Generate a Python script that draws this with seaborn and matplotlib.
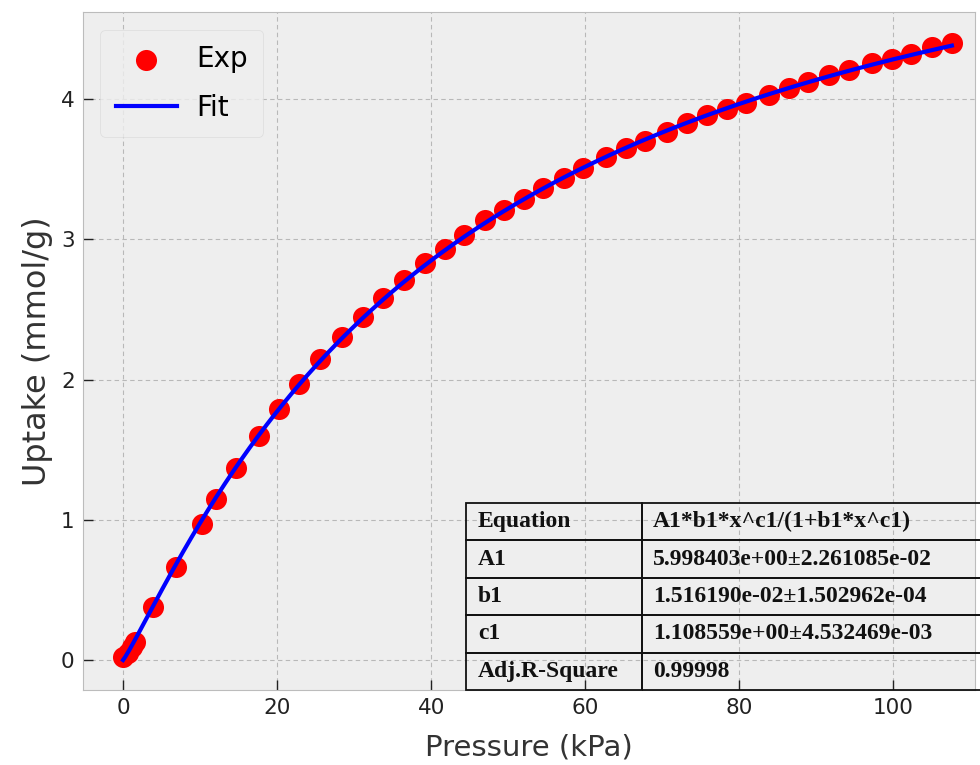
import numpy as np
import pandas as pd
import matplotlib
matplotlib.use("Agg")
import matplotlib.pyplot as plt
import seaborn as sns

# Measured isotherm points
pressure_kpa = [0.05, 0.6, 1.1, 1.6, 3.9, 6.9, 10.2, 12.1, 14.7, 17.6, 20.2, 22.8,
                25.6, 28.4, 31.1, 33.8, 36.5, 39.2, 41.8, 44.2, 47.0, 49.4, 52.0,
                54.5, 57.2, 59.7, 62.7, 65.3, 67.7, 70.6, 73.2, 75.8, 78.4, 80.9,
                83.9, 86.5, 88.9, 91.7, 94.3, 97.2, 99.8, 102.3, 105.0, 107.6]
uptake_mmol_g = [0.02, 0.05, 0.09, 0.13, 0.38, 0.66, 0.97, 1.15, 1.37, 1.60, 1.79, 1.97,
                 2.145, 2.305, 2.45, 2.58, 2.71, 2.83, 2.93, 3.03, 3.14, 3.21, 3.29,
                 3.37, 3.44, 3.51, 3.585, 3.65, 3.70, 3.765, 3.83, 3.885, 3.93, 3.975,
                 4.03, 4.08, 4.12, 4.17, 4.21, 4.255, 4.29, 4.325, 4.37, 4.40]

# Sips fit parameters
A1 = 5.998403e+00
b1 = 1.516190e-02
c1 = 1.108559e+00

table_labels = ["Equation", "A1", "b1", "c1", "Adj.R-Square"]
table_values = ["A1*b1*x^c1/(1+b1*x^c1)",
                "5.998403e+00\u00b12.261085e-02",
                "1.516190e-02\u00b11.502962e-04",
                "1.108559e+00\u00b14.532469e-03",
                "0.99998"]

plt.style.use("bmh")
plt.rcParams["font.family"] = ["DejaVu Sans"]
plt.rcParams["grid.linestyle"] = (0, (4, 3))
plt.rcParams["grid.linewidth"] = 0.8
plt.rcParams["grid.color"] = "#b8b8b8"

exp_df = pd.DataFrame({"Pressure": pressure_kpa, "Uptake": uptake_mmol_g})
x_fit = np.linspace(0, max(pressure_kpa), 400)
fit_df = pd.DataFrame({"Pressure": x_fit,
                       "Uptake": A1 * b1 * x_fit ** c1 / (1 + b1 * x_fit ** c1)})

fig = plt.figure(figsize=(9.8, 7.65), dpi=100)
ax = fig.add_axes([0.0847, 0.098, 0.9102, 0.886])

sns.scatterplot(data=exp_df, x="Pressure", y="Uptake", ax=ax, color="red",
                s=230, linewidth=0, label="Exp", zorder=3)
sns.lineplot(data=fit_df, x="Pressure", y="Uptake", ax=ax, color="blue",
             linewidth=3, label="Fit", zorder=4)

ax.set_xlim(-5.2, 110.6)
ax.set_ylim(-0.214, 4.62)
ax.set_xticks([0, 20, 40, 60, 80, 100])
ax.set_yticks([0, 1, 2, 3, 4])
ax.tick_params(labelsize=15.5, length=7, width=1, colors="#222222", pad=6)
ax.set_xlabel("Pressure (kPa)", fontsize=21, color="#333333", labelpad=11)
ax.set_ylabel("Uptake (mmol/g)", fontsize=23, color="#333333", labelpad=6)

leg = ax.legend(loc="upper left", fontsize=20, handlelength=2.2, borderpad=0.55,
                handletextpad=0.7, labelspacing=0.75, bbox_to_anchor=(0.004, 0.995))
leg.get_frame().set_facecolor("#eeeeee")
leg.get_frame().set_edgecolor("#d8d8d8")

# Fit-results table anchored to the lower-right corner of the axes
cell_text = [[lab, val] for lab, val in zip(table_labels, table_values)]
tbl = ax.table(cellText=cell_text, cellLoc="left", colWidths=[176, 350],
               bbox=[0.4294, 0.0, 0.59, 0.276], zorder=5)
tbl.auto_set_font_size(False)
for (r, c), cell in tbl.get_celld().items():
    cell.set_facecolor("none")
    cell.set_edgecolor("#111111")
    cell.set_linewidth(1.3)
    cell.PAD = 0.068 if c == 0 else 0.03
    cell.get_text().set_fontfamily("Liberation Serif")
    cell.get_text().set_fontweight("bold")
    cell.get_text().set_fontsize(17)
    cell.get_text().set_color("#111111")

fig.savefig("out.png", dpi=100)
